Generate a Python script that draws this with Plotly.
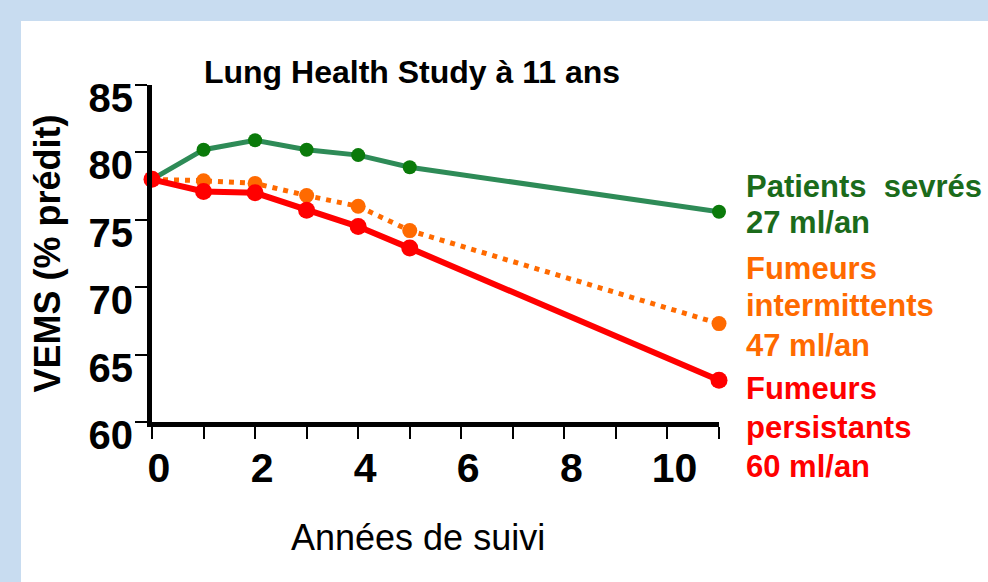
import plotly.graph_objects as go

# ---- data ----
years = [0, 1, 2, 3, 4, 5, 11]
sevres = [78.0, 80.2, 80.9, 80.2, 79.8, 78.9, 75.6]
intermittents = [78.0, 77.9, 77.7, 76.8, 76.0, 74.2, 67.3]
persistants = [78.0, 77.1, 77.0, 75.7, 74.5, 72.9, 63.1]

x_tickvals = list(range(0, 12))
x_ticktext = ["0", "", "2", "", "4", "", "6", "", "8", "", "10", ""]
y_tickvals = [60, 65, 70, 75, 80, 85]

title_text = "Lung Health Study à 11 ans"
x_title = "Années de suivi"
y_title = "VEMS (% prédit)"

labels = [
    ("Patients  sevrés", "#1b6b1b"),
    ("27 ml/an", "#1b6b1b"),
    ("Fumeurs", "#ff6a00"),
    ("intermittents", "#ff6a00"),
    ("47 ml/an", "#ff6a00"),
    ("Fumeurs", "#ff0000"),
    ("persistants", "#ff0000"),
    ("60 ml/an", "#ff0000"),
]
label_y_px = [186, 222, 268, 305, 345, 388, 427, 466]

ARIAL = "Liberation Sans, Arial, sans-serif"

fig = go.Figure()

fig.add_trace(go.Scatter(
    x=years, y=sevres, mode="lines+markers", name="Patients sevrés",
    line=dict(color="#2e8b57", width=5),
    marker=dict(color="#0a7a0a", size=14),
    cliponaxis=False,
))
fig.add_trace(go.Scatter(
    x=years, y=intermittents, mode="lines+markers", name="Fumeurs intermittents",
    line=dict(color="#ff6a00", width=5, dash="5px,6px"),
    marker=dict(color="#ff6a00", size=15),
    cliponaxis=False,
))
fig.add_trace(go.Scatter(
    x=years, y=persistants, mode="lines+markers", name="Fumeurs persistants",
    line=dict(color="#ff0000", width=6),
    marker=dict(color="#ff0000", size=17),
    cliponaxis=False,
))

# white slide panel over the light-blue background
L, R, T, B = 152, 269, 85, 160
W, H = 988, 582
pw, ph = W - L - R, H - T - B
def px2paper_x(px):
    return (px - L) / pw
def py2paper_y(py):
    return (H - B - py) / ph

fig.add_shape(type="rect", xref="paper", yref="paper",
              x0=px2paper_x(21), x1=px2paper_x(992),
              y0=py2paper_y(586), y1=py2paper_y(21),
              fillcolor="white", line=dict(width=0), layer="below")

for (txt, col), yy in zip(labels, label_y_px):
    fig.add_annotation(text=f"<b>{txt}</b>", xref="paper", yref="paper",
                       x=px2paper_x(744), y=py2paper_y(yy), xanchor="left", yanchor="middle",
                       showarrow=False, font=dict(family=ARIAL, size=31, color=col))

# x axis title, placed where the reference shows it
fig.add_annotation(text=x_title, xref="paper", yref="paper",
                   x=px2paper_x(418), y=py2paper_y(537), xanchor="center", yanchor="middle",
                   showarrow=False, font=dict(family=ARIAL, size=36, color="black"))

fig.update_layout(
    width=W, height=H,
    margin=dict(l=L, r=R, t=T, b=B),
    paper_bgcolor="#c8dcf0",
    plot_bgcolor="rgba(0,0,0,0)",
    showlegend=False,
    title=dict(text=f"<b>{title_text}</b>", xref="paper", x=px2paper_x(412), xanchor="center",
               yref="container", y=1 - 72 / H, yanchor="middle",
               font=dict(family=ARIAL, size=32, color="black")),
    xaxis=dict(
        range=[0, 11], tickvals=x_tickvals, ticktext=x_ticktext,
        showgrid=False, zeroline=False,
        showline=True, linecolor="black", linewidth=5,
        ticks="outside", ticklen=12, tickwidth=2, tickcolor="black",
        ticklabelshift=7, ticklabelstandoff=-6,
        tickfont=dict(family=ARIAL, size=41, color="black", weight="bold"),
    ),
    yaxis=dict(
        range=[60, 85], tickvals=y_tickvals,
        showgrid=False, zeroline=False,
        showline=True, linecolor="black", linewidth=5,
        ticks="outside", ticklen=12, tickwidth=2, tickcolor="black",
        ticklabelshift=13, ticklabelstandoff=-6,
        tickfont=dict(family=ARIAL, size=40, color="black", weight="bold"),
        title=dict(text=f"<b>{y_title}</b>", font=dict(family=ARIAL, size=36, color="black"), standoff=18),
    ),
)

fig.write_html("out.html", config={"displayModeBar": False},
               post_script="document.body.style.margin='0';")
